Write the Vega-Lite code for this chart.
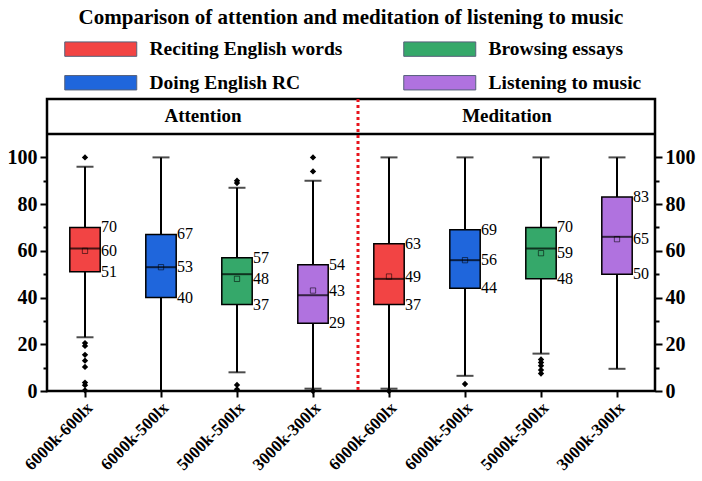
{
  "$schema": "https://vega.github.io/schema/vega-lite/v6.json",
  "width": 608,
  "height": 292,
  "autosize": {"type": "none"},
  "padding": {"left": 47, "top": 99, "right": 47, "bottom": 90},
  "background": "white",
  "title": {"text": "Comparison of attention and meditation of listening to music", "font": "Liberation Serif", "fontSize": 21, "fontWeight": "bold", "color": "black", "anchor": "middle", "offset": 11},
  "config": {"view": {"stroke": "black", "strokeWidth": 2.5}, "font": "Liberation Serif"},
  "datasets": {
    "boxes": [
      {"key": "A 6000k-600lx", "activity": "Reciting English words", "lower": 23, "q1": 51, "median": 61, "mean": 60, "q3": 70, "upper": 96},
      {"key": "A 6000k-500lx", "activity": "Doing English RC", "lower": 0, "q1": 40, "median": 53, "mean": 53, "q3": 67, "upper": 100},
      {"key": "A 5000k-500lx", "activity": "Browsing essays", "lower": 8, "q1": 37, "median": 50, "mean": 48, "q3": 57, "upper": 87},
      {"key": "A 3000k-300lx", "activity": "Listening to music", "lower": 1, "q1": 29, "median": 41, "mean": 43, "q3": 54, "upper": 90},
      {"key": "M 6000k-600lx", "activity": "Reciting English words", "lower": 1, "q1": 37, "median": 48, "mean": 49, "q3": 63, "upper": 100},
      {"key": "M 6000k-500lx", "activity": "Doing English RC", "lower": 6.5, "q1": 44, "median": 56, "mean": 56, "q3": 69, "upper": 100},
      {"key": "M 5000k-500lx", "activity": "Browsing essays", "lower": 16, "q1": 48, "median": 61, "mean": 59, "q3": 70, "upper": 100},
      {"key": "M 3000k-300lx", "activity": "Listening to music", "lower": 9.5, "q1": 50, "median": 66, "mean": 65, "q3": 83, "upper": 100}
    ],
    "outliers": [
      {"key": "A 6000k-600lx", "value": 100},
      {"key": "A 6000k-600lx", "value": 20.5},
      {"key": "A 6000k-600lx", "value": 19.3},
      {"key": "A 6000k-600lx", "value": 15.5},
      {"key": "A 6000k-600lx", "value": 13},
      {"key": "A 6000k-600lx", "value": 10.3},
      {"key": "A 6000k-600lx", "value": 3.6},
      {"key": "A 6000k-600lx", "value": 2.5},
      {"key": "A 6000k-600lx", "value": 0.3},
      {"key": "A 5000k-500lx", "value": 90},
      {"key": "A 5000k-500lx", "value": 89},
      {"key": "A 5000k-500lx", "value": 2.6},
      {"key": "A 5000k-500lx", "value": 0.7},
      {"key": "A 3000k-300lx", "value": 100},
      {"key": "A 3000k-300lx", "value": 94},
      {"key": "A 3000k-300lx", "value": 0},
      {"key": "M 6000k-600lx", "value": 0},
      {"key": "M 6000k-500lx", "value": 3},
      {"key": "M 5000k-500lx", "value": 13.5},
      {"key": "M 5000k-500lx", "value": 12.2},
      {"key": "M 5000k-500lx", "value": 10.8},
      {"key": "M 5000k-500lx", "value": 9},
      {"key": "M 5000k-500lx", "value": 7.5}
    ],
    "headers": [
      {"label": "Attention", "key": "A 5000k-500lx"},
      {"label": "Meditation", "key": "M 5000k-500lx"}
    ]
  },
  "data": {"name": "boxes"},
  "resolve": {"axis": {"y": "independent"}},
  "layer": [
    {
      "mark": {"type": "rule", "color": "black", "strokeWidth": 2},
      "encoding": {
        "x": {"field": "key", "type": "nominal",
          "scale": {"domain": ["A 6000k-600lx", "A 6000k-500lx", "A 5000k-500lx", "A 3000k-300lx", "M 6000k-600lx", "M 6000k-500lx", "M 5000k-500lx", "M 3000k-300lx"], "paddingInner": 0, "paddingOuter": 0},
          "axis": {"title": null, "orient": "bottom", "domain": false, "grid": false, "tickSize": 6, "tickWidth": 2, "tickColor": "black", "labelAngle": -45, "labelAlign": "right", "labelBaseline": "middle", "labelFont": "Liberation Serif", "labelFontSize": 17, "labelFontWeight": "bold", "labelColor": "black", "labelPadding": 8, "labelOffset": 5, "labelExpr": "substring(datum.label, 2)"}},
        "y": {"field": "lower", "type": "quantitative", "scale": {"domain": [0, 125], "nice": false, "zero": false},
          "axis": {"title": null, "orient": "left", "values": [0, 10, 20, 30, 40, 50, 60, 70, 80, 90, 100], "domain": false, "grid": false, "tickColor": "black", "tickWidth": 2,
            "tickSize": {"condition": {"test": "datum.value % 20 === 0", "value": 7}, "value": 4},
            "labelExpr": "datum.value % 20 === 0 ? datum.label : ''", "labelFont": "Liberation Serif", "labelFontSize": 20, "labelFontWeight": "bold", "labelColor": "black", "labelPadding": 3}},
        "y2": {"field": "upper"}
      }
    },
    {
      "mark": {"type": "bar", "width": {"band": 0.4}, "stroke": "black", "strokeWidth": 1.5},
      "encoding": {
        "x": {"field": "key", "type": "nominal"},
        "y": {"field": "q1", "type": "quantitative",
          "axis": {"title": null, "orient": "right", "values": [0, 10, 20, 30, 40, 50, 60, 70, 80, 90, 100], "domain": false, "grid": false, "tickColor": "black", "tickWidth": 2,
            "tickSize": {"condition": {"test": "datum.value % 20 === 0", "value": 7}, "value": 4},
            "labelExpr": "datum.value % 20 === 0 ? datum.label : ''", "labelFont": "Liberation Serif", "labelFontSize": 20, "labelFontWeight": "bold", "labelColor": "black", "labelPadding": 3}},
        "y2": {"field": "q3"},
        "color": {"field": "activity", "type": "nominal",
          "scale": {"domain": ["Reciting English words", "Doing English RC", "Browsing essays", "Listening to music"], "range": ["#f24444", "#1f66dc", "#35a86a", "#b072df"]},
          "legend": {"title": null, "orient": "none", "legendX": 44, "legendY": -60, "columns": 2, "columnPadding": 58, "rowPadding": 13, "padding": 0,
            "symbolType": "M-7.2,-1.44H7.2V1.44H-7.2Z", "symbolSize": 100, "symbolStrokeColor": "#55607a", "symbolStrokeWidth": 1, "symbolOpacity": 1,
            "labelFont": "Liberation Serif", "labelFontSize": 19.5, "labelFontWeight": "bold", "labelColor": "black", "labelOffset": 39, "labelLimit": 400}}
      }
    },
    {
      "mark": {"type": "tick", "color": "black", "thickness": 2},
      "encoding": {
        "x": {"field": "key", "type": "nominal"},
        "y": {"field": "median", "type": "quantitative", "axis": null},
        "size": {"value": 30}
      }
    },
    {
      "mark": {"type": "tick", "color": "black", "thickness": 2},
      "encoding": {
        "x": {"field": "key", "type": "nominal"},
        "y": {"field": "lower", "type": "quantitative", "axis": null},
        "size": {"value": 17}
      }
    },
    {
      "mark": {"type": "tick", "color": "black", "thickness": 2},
      "encoding": {
        "x": {"field": "key", "type": "nominal"},
        "y": {"field": "upper", "type": "quantitative", "axis": null},
        "size": {"value": 17}
      }
    },
    {
      "mark": {"type": "point", "shape": "square", "filled": false, "size": 28, "color": "black", "strokeOpacity": 0.55, "strokeWidth": 1, "opacity": 1},
      "encoding": {
        "x": {"field": "key", "type": "nominal"},
        "y": {"field": "mean", "type": "quantitative", "axis": null}
      }
    },
    {
      "data": {"name": "outliers"},
      "mark": {"type": "point", "shape": "diamond", "filled": true, "size": 40, "color": "black", "opacity": 1},
      "encoding": {
        "x": {"field": "key", "type": "nominal"},
        "y": {"field": "value", "type": "quantitative", "axis": null}
      }
    },
    {
      "mark": {"type": "text", "align": "left", "baseline": "middle", "dx": 16, "font": "Liberation Serif", "fontSize": 16, "color": "black"},
      "encoding": {
        "x": {"field": "key", "type": "nominal"},
        "y": {"field": "q3", "type": "quantitative", "axis": null},
        "text": {"field": "q3", "type": "quantitative"}
      }
    },
    {
      "mark": {"type": "text", "align": "left", "baseline": "middle", "dx": 16, "font": "Liberation Serif", "fontSize": 16, "color": "black"},
      "encoding": {
        "x": {"field": "key", "type": "nominal"},
        "y": {"field": "mean", "type": "quantitative", "axis": null},
        "text": {"field": "mean", "type": "quantitative"}
      }
    },
    {
      "mark": {"type": "text", "align": "left", "baseline": "middle", "dx": 16, "font": "Liberation Serif", "fontSize": 16, "color": "black"},
      "encoding": {
        "x": {"field": "key", "type": "nominal"},
        "y": {"field": "q1", "type": "quantitative", "axis": null},
        "text": {"field": "q1", "type": "quantitative"}
      }
    },
    {
      "data": {"values": [{}]},
      "mark": {"type": "rule", "color": "black", "strokeWidth": 2.5},
      "encoding": {"y": {"datum": 110, "type": "quantitative", "axis": null}}
    },
    {
      "data": {"name": "headers"},
      "mark": {"type": "text", "align": "center", "baseline": "middle", "dx": 4, "font": "Liberation Serif", "fontSize": 19, "fontWeight": "bold", "color": "black"},
      "encoding": {
        "x": {"field": "key", "type": "nominal", "bandPosition": 0},
        "y": {"datum": 117.6, "type": "quantitative", "axis": null},
        "text": {"field": "label"}
      }
    },
    {
      "data": {"values": [{}]},
      "mark": {"type": "rule", "color": "#e8141c", "strokeWidth": 3, "strokeDash": [3, 3], "xOffset": 7},
      "encoding": {"x": {"datum": "M 6000k-600lx", "type": "nominal", "bandPosition": 0}}
    }
  ]
}
